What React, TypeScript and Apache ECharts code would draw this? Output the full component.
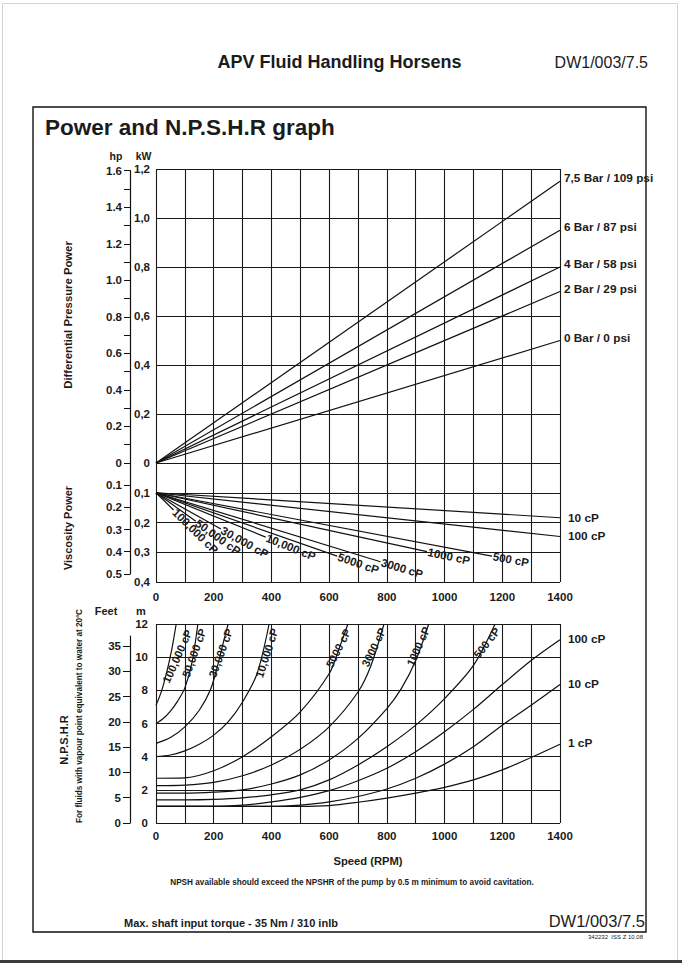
import React, { useEffect, useRef } from "react";
import * as echarts from "echarts";

// ---------- data ----------
const RPM_MAX = 1400;

// Differential pressure power: straight lines from origin, kW at 1400 rpm
const pressureNames = ["7,5 Bar / 109 psi", "6 Bar / 87 psi", "4 Bar / 58 psi", "2 Bar / 29 psi", "0 Bar / 0 psi"];
const pressureKwAt1400 = [1.15, 0.95, 0.8, 0.7, 0.5];

// Viscosity power: straight lines from (0 rpm, 0.1 kW) to end point
const viscNames = ["100,000 cP", "50,000 cP", "30,000 cP", "10,000 cP", "5000 cP", "3000 cP", "1000 cP", "500 cP", "100 cP", "10 cP"];
const viscStartKw = 0.1;
const viscEndRpm = [61, 138, 225, 380, 628, 778, 939, 1164, 1400, 1400];
const viscEndKw = [0.158, 0.196, 0.222, 0.249, 0.313, 0.332, 0.298, 0.313, 0.247, 0.184];

// NPSHR curves [rpm, m]
const npsh100000 = [[0, 7.1], [20, 8.0], [40, 9.3], [55, 10.5], [70, 12]];
const npsh50000 = [[0, 6.0], [25, 6.3], [50, 6.75], [75, 7.35], [100, 8.15], [125, 9.7], [145, 12]];
const npsh30000 = [[0, 4.8], [50, 5.15], [100, 5.8], [150, 6.8], [190, 8.1], [215, 9.6], [235, 11.0], [250, 12]];
const npsh10000 = [[0, 4.0], [50, 4.1], [100, 4.35], [150, 4.75], [200, 5.3], [250, 6.1], [300, 7.3], [350, 9.0], [392, 12]];
const npsh5000 = [[0, 2.7], [100, 2.72], [200, 3.15], [300, 4.0], [400, 5.2], [500, 6.7], [600, 9.0], [630, 10.3], [665, 12]];
const npsh3000 = [[0, 2.25], [100, 2.28], [200, 2.45], [300, 2.85], [400, 3.5], [500, 4.45], [600, 5.8], [700, 7.9], [745, 9.5], [790, 12]];
const npsh1000 = [[0, 1.8], [100, 1.8], [200, 1.86], [300, 2.0], [400, 2.35], [500, 2.9], [600, 3.8], [700, 5.1], [800, 6.9], [850, 8.1], [900, 9.8], [945, 12]];
const npsh500 = [[0, 1.4], [100, 1.4], [200, 1.43], [300, 1.52], [400, 1.7], [500, 2.0], [600, 2.6], [700, 3.5], [800, 4.6], [900, 5.9], [1000, 7.5], [1100, 9.5], [1175, 12]];
const npsh100 = [[0, 1.0], [100, 1.0], [200, 1.0], [300, 1.08], [400, 1.27], [500, 1.55], [600, 1.95], [700, 2.55], [800, 3.3], [900, 4.3], [1000, 5.5], [1100, 6.85], [1200, 8.35], [1300, 9.8], [1400, 11.05]];
const npsh10 = [[0, 1.0], [100, 1.0], [200, 1.0], [300, 1.0], [400, 1.0], [500, 1.08], [600, 1.27], [700, 1.6], [800, 2.05], [900, 2.7], [1000, 3.55], [1100, 4.6], [1200, 5.9], [1300, 7.1], [1400, 8.35]];
const npsh1 = [[0, 1.0], [100, 1.0], [200, 1.0], [300, 1.0], [400, 1.0], [500, 1.0], [600, 1.05], [700, 1.25], [800, 1.5], [900, 1.8], [1000, 2.15], [1100, 2.6], [1200, 3.2], [1300, 3.95], [1400, 4.75]];

const npshCurves = [npsh100000, npsh50000, npsh30000, npsh10000, npsh5000, npsh3000, npsh1000, npsh500, npsh100, npsh10, npsh1];
const npshNames = ["100,000 cP", "50,000 cP", "30,000 cP", "10,000 cP", "5000 cP", "3000 cP", "1000 cP", "500 cP", "100 cP", "10 cP", "1 cP"];

// label anchors for rotated NPSHR labels: [rpm, m, angle deg]
const npshLabelAt = [[74, 10.05, 66], [132, 10.25, 70], [224, 10.25, 70], [384, 10.25, 72], [632, 10.55, 63], [755, 10.6, 64], [909, 10.65, 66], [1146, 10.86, 52]];

// axis conversion factors
const KW_PER_HP = 0.7457;
const M_PER_FT = 0.3048;

// ---------- layout ----------
const FONT = "'Liberation Sans', Arial, Helvetica, sans-serif";
const INK = "#1b1b1b";
const PLOT_L = 156;
const PLOT_W = 404;
const AX2_L = 130;
const P_TOP = 169;
const P_H = 294;
const P_KW_MAX = 1.2;
const V_TOP = 463;
const V_H = 119;
const V_KW_MAX = 0.4;
const N_TOP = 624;
const N_H = 199;
const N_M_MAX = 12;

const HP_P_MAX = 1.6;
const HP_V_MAX = 0.5;
const FT_MAX = 37;

const hpPH = (HP_P_MAX * KW_PER_HP) / P_KW_MAX * P_H;
const hpVH = (HP_V_MAX * KW_PER_HP) / V_KW_MAX * V_H;
const ftH = (FT_MAX * M_PER_FT) / N_M_MAX * N_H;

const lineStyle = { color: "#111", width: 1.2 };
const gridLine = { show: true, lineStyle: { color: "#1a1a1a", width: 1.1 } };
const axLabel = { color: INK, fontFamily: FONT, fontWeight: "bold" as const, fontSize: 11.5 };

function rpmAxis(gridIndex: number, showLabels: boolean, margin: number) {
  return {
    type: "value", gridIndex, min: 0, max: RPM_MAX, interval: 100,
    axisLine: { show: false }, axisTick: { show: false },
    splitLine: gridLine,
    axisLabel: showLabels
      ? { ...axLabel, margin, formatter: (v: number) => (v % 200 === 0 ? String(v) : "") }
      : { show: false },
  };
}

function sideAxisX(gridIndex: number) {
  return { type: "value", gridIndex, show: false, min: 0, max: 1 };
}

export default function App() {
  const ref = useRef<HTMLDivElement>(null);
  useEffect(() => {
    const chart = echarts.init(ref.current!, null, { renderer: "svg", width: 682, height: 963 });
    const series: any[] = [];
    pressureNames.forEach((n, i) => {
      series.push({ type: "line", name: n, xAxisIndex: 0, yAxisIndex: 0, data: [[0, 0], [RPM_MAX, pressureKwAt1400[i]]], symbol: "none", lineStyle, silent: true });
    });
    viscNames.forEach((n, i) => {
      series.push({ type: "line", name: n, xAxisIndex: 2, yAxisIndex: 2, data: [[0, viscStartKw], [viscEndRpm[i], viscEndKw[i]]], symbol: "none", lineStyle, silent: true });
    });
    npshCurves.forEach((c, i) => {
      series.push({ type: "line", name: "N" + npshNames[i], xAxisIndex: 4, yAxisIndex: 4, data: c, symbol: "none", smooth: 0.3, lineStyle, silent: true });
    });

    const option: any = {
      animation: false,
      backgroundColor: "#fff",
      grid: [
        { left: PLOT_L, top: P_TOP, width: PLOT_W, height: P_H },
        { left: AX2_L, top: V_TOP - hpPH, width: 1, height: hpPH },
        { left: PLOT_L, top: V_TOP, width: PLOT_W, height: V_H },
        { left: AX2_L, top: V_TOP, width: 1, height: hpVH },
        { left: PLOT_L, top: N_TOP, width: PLOT_W, height: N_H },
        { left: AX2_L, top: N_TOP + N_H - ftH, width: 1, height: ftH },
      ],
      xAxis: [
        rpmAxis(0, false, 0),
        sideAxisX(1),
        rpmAxis(2, true, 9),
        sideAxisX(3),
        rpmAxis(4, true, 7),
        sideAxisX(5),
      ],
      yAxis: [
        {
          type: "value", gridIndex: 0, min: 0, max: P_KW_MAX, interval: 0.2,
          axisLine: { show: false }, axisTick: { show: false }, splitLine: gridLine,
          axisLabel: { ...axLabel, margin: 6, formatter: (v: number) => (v === 0 ? "0" : v.toFixed(1).replace(".", ",")) },
        },
        {
          type: "value", gridIndex: 1, min: 0, max: HP_P_MAX, interval: 0.2,
          axisLine: { show: true, lineStyle: { color: "#111", width: 1.2 } },
          axisTick: { show: true, length: 6, lineStyle: { color: "#111" } },
          minorTick: { show: true, splitNumber: 2, length: 6, lineStyle: { color: "#111" } },
          splitLine: { show: false },
          axisLabel: { ...axLabel, margin: 8, formatter: (v: number) => (v === 0 ? "0" : v.toFixed(1)) },
        },
        {
          type: "value", gridIndex: 2, min: 0, max: V_KW_MAX, interval: 0.1, inverse: true,
          axisLine: { show: false }, axisTick: { show: false }, splitLine: gridLine,
          axisLabel: { ...axLabel, margin: 6, formatter: (v: number) => (v === 0 ? "" : v.toFixed(1).replace(".", ",")) },
        },
        {
          type: "value", gridIndex: 3, min: 0, max: HP_V_MAX, interval: 0.1, inverse: true,
          axisLine: { show: true, lineStyle: { color: "#111", width: 1.2 } },
          axisTick: { show: true, length: 6, lineStyle: { color: "#111" } },
          splitLine: { show: false },
          axisLabel: { ...axLabel, margin: 8, formatter: (v: number) => (v === 0 ? "" : v.toFixed(1)) },
        },
        {
          type: "value", gridIndex: 4, min: 0, max: N_M_MAX, interval: 2,
          axisLine: { show: false }, axisTick: { show: false }, splitLine: gridLine,
          axisLabel: { ...axLabel, margin: 8 },
        },
        {
          type: "value", gridIndex: 5, min: 0, max: FT_MAX,
          axisLine: { show: true, lineStyle: { color: "#111", width: 1.2 } },
          axisTick: { show: true, length: 7, lineStyle: { color: "#111" }, customValues: [0, 5, 10, 15, 20, 25, 30, 35] },
          splitLine: { show: false },
          axisLabel: { ...axLabel, margin: 9, customValues: [0, 5, 10, 15, 20, 25, 30, 35] },
        },
      ],
      series,
    };
    chart.setOption(option);

    const px = (gi: number, p: number[]) => chart.convertToPixel({ xAxisIndex: gi, yAxisIndex: gi } as any, p) as number[];
    const txt = (text: string, x: number, y: number, size: number, opts: any = {}) => ({
      type: "text", x, y, rotation: opts.rotation || 0, silent: true, z: 50,
      style: {
        text, fill: opts.fill || INK,
        font: `${opts.weight || "bold"} ${size}px ${FONT}`,
        align: opts.align || "left", verticalAlign: opts.vAlign || "middle",
      },
    });

    const g: any[] = [];
    // page frame
    g.push({ type: "line", shape: { x1: 2.5, y1: 3, x2: 2.5, y2: 960 }, style: { stroke: "#d4d4d4", lineWidth: 1 } });
    g.push({ type: "line", shape: { x1: 2, y1: 3.5, x2: 678, y2: 3.5 }, style: { stroke: "#d4d4d4", lineWidth: 1 } });
    g.push({ type: "line", shape: { x1: 677.5, y1: 3, x2: 677.5, y2: 960 }, style: { stroke: "#d4d4d4", lineWidth: 1 } });
    g.push({ type: "rect", shape: { x: 0, y: 960, width: 682, height: 3 }, style: { fill: "#3a3a3a" } });
    // box
    g.push({ type: "rect", shape: { x: 33, y: 107, width: 613, height: 825 }, style: { fill: "none", stroke: "#111", lineWidth: 1.4 } });

    // headers
    g.push(txt("APV Fluid Handling Horsens", 339.5, 62, 18, { align: "center" }));
    g.push(txt("DW1/003/7.5", 648, 62, 16, { weight: "normal", align: "right" }));
    g.push(txt("Power and N.P.S.H.R graph", 45, 127, 22.5));
    g.push(txt("hp", 116, 156, 10.5, { align: "center" }));
    g.push(txt("kW", 143.5, 156, 10.5, { align: "center" }));
    g.push(txt("Feet", 106, 611, 11, { align: "center" }));
    g.push(txt("m", 141, 611, 11, { align: "center" }));
    g.push(txt("Differential Pressure Power", 68, 315, 11.3, { align: "center", rotation: Math.PI / 2 }));
    g.push(txt("Viscosity Power", 68, 528, 11, { align: "center", rotation: Math.PI / 2 }));
    g.push(txt("N.P.S.H.R", 64, 740, 11, { align: "center", rotation: Math.PI / 2 }));
    g.push(txt("For fluids with vapour point equivalent to water at 20ºC", 79, 716, 8.2, { align: "center", rotation: Math.PI / 2 }));
    g.push(txt("Speed (RPM)", 368, 861, 11.2, { align: "center" }));
    g.push(txt("NPSH available should exceed the NPSHR of the pump by 0.5 m minimum to avoid cavitation.", 352, 882, 8.2, { align: "center" }));
    g.push(txt("Max. shaft input torque - 35 Nm / 310 inlb", 124, 923, 11));
    g.push(txt("DW1/003/7.5", 645, 921, 16.5, { weight: "normal", align: "right" }));
    g.push(txt("342232  ISS Z 10.08", 643, 937, 6, { weight: "normal", align: "right" }));

    // power labels
    pressureNames.forEach((n, i) => {
      const p = px(0, [RPM_MAX, pressureKwAt1400[i]]);
      g.push(txt(n, p[0] + 4, p[1] - 3, 11.8));
    });
    // viscosity labels
    viscNames.forEach((n, i) => {
      const p1 = px(2, [viscEndRpm[i], viscEndKw[i]]);
      if (viscEndRpm[i] >= RPM_MAX) {
        g.push(txt(n, p1[0] + 8, p1[1], 11.8));
      } else {
        const p0 = px(2, [0, viscStartKw]);
        const a = Math.atan2(p1[1] - p0[1], p1[0] - p0[0]);
        g.push(txt(n, p1[0] + Math.cos(a) * 1, p1[1] + Math.sin(a) * 1, 11.5, { rotation: -a }));
      }
    });
    // npsh labels
    npshLabelAt.forEach((l, i) => {
      const p = px(4, [l[0], l[1]]);
      g.push(txt(npshNames[i], p[0], p[1], 11.2, { align: "center", rotation: (l[2] * Math.PI) / 180 }));
    });
    [8, 9, 10].forEach((i) => {
      const c = npshCurves[i];
      const p = px(4, c[c.length - 1]);
      g.push(txt(npshNames[i], p[0] + 8, p[1] - 1, 11.8));
    });

    chart.setOption({ graphic: g });
    return () => chart.dispose();
  }, []);
  return <div ref={ref} style={{ position: "fixed", left: 0, top: 0, width: 682, height: 963, background: "#fff" }} />;
}
